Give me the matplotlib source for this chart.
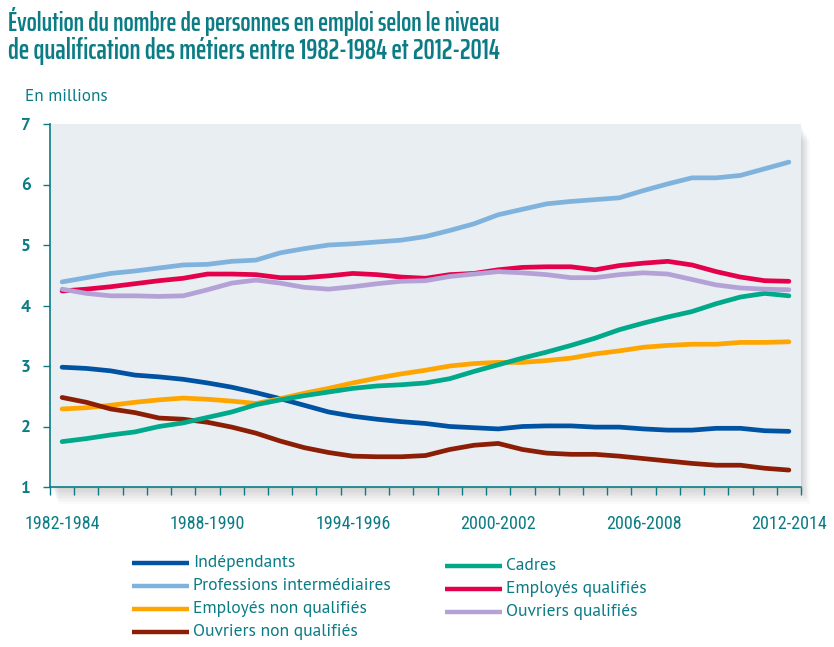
import numpy as np
import matplotlib
matplotlib.use("Agg")
from matplotlib import pyplot as plt
from matplotlib.patches import Rectangle

periods = ["%d-%d" % (y, y + 2) for y in range(1982, 2013)]
tick_labels = ["1982-1984", "1988-1990", "1994-1996", "2000-2002", "2006-2008", "2012-2014"]

independants = [2.98, 2.96, 2.92, 2.85, 2.82, 2.78, 2.72, 2.65, 2.56, 2.46, 2.35, 2.24, 2.17, 2.12, 2.08,
                2.05, 2.00, 1.98, 1.96, 2.00, 2.01, 2.01, 1.99, 1.99, 1.96, 1.94, 1.94, 1.97, 1.97, 1.93, 1.92]
prof_inter = [4.39, 4.46, 4.53, 4.57, 4.62, 4.67, 4.68, 4.73, 4.75, 4.87, 4.94, 5.00, 5.02, 5.05, 5.08,
              5.14, 5.24, 5.35, 5.50, 5.59, 5.68, 5.72, 5.75, 5.78, 5.90, 6.01, 6.11, 6.11, 6.15, 6.26, 6.37]
employes_nq = [2.29, 2.31, 2.35, 2.40, 2.44, 2.47, 2.45, 2.42, 2.38, 2.46, 2.55, 2.63, 2.72, 2.80, 2.87,
               2.93, 3.00, 3.04, 3.06, 3.06, 3.09, 3.13, 3.20, 3.25, 3.31, 3.34, 3.36, 3.36, 3.39, 3.39, 3.40]
ouvriers_nq = [2.48, 2.40, 2.29, 2.23, 2.14, 2.12, 2.07, 1.99, 1.89, 1.76, 1.65, 1.57, 1.51, 1.50, 1.50,
               1.52, 1.62, 1.69, 1.72, 1.62, 1.56, 1.54, 1.54, 1.51, 1.47, 1.43, 1.39, 1.36, 1.36, 1.31, 1.28]
cadres = [1.75, 1.80, 1.86, 1.91, 2.00, 2.06, 2.15, 2.24, 2.36, 2.44, 2.51, 2.57, 2.63, 2.67, 2.69,
          2.72, 2.79, 2.91, 3.02, 3.13, 3.23, 3.34, 3.46, 3.60, 3.71, 3.81, 3.90, 4.03, 4.14, 4.20, 4.16]
employes_q = [4.24, 4.27, 4.31, 4.36, 4.41, 4.45, 4.52, 4.52, 4.51, 4.46, 4.46, 4.49, 4.53, 4.51, 4.47,
              4.45, 4.51, 4.53, 4.59, 4.63, 4.64, 4.64, 4.59, 4.66, 4.70, 4.73, 4.67, 4.56, 4.47, 4.41, 4.40]
ouvriers_q = [4.27, 4.20, 4.16, 4.16, 4.15, 4.16, 4.26, 4.37, 4.42, 4.37, 4.30, 4.27, 4.31, 4.36, 4.40,
              4.41, 4.48, 4.52, 4.56, 4.54, 4.51, 4.46, 4.46, 4.51, 4.54, 4.52, 4.43, 4.34, 4.29, 4.27, 4.26]

left_items = [("Indépendants", independants, "#0052a2"),
              ("Professions intermédiaires", prof_inter, "#7fb3dd"),
              ("Employés non qualifiés", employes_nq, "#ffa500"),
              ("Ouvriers non qualifiés", ouvriers_nq, "#8c1e05")]
right_items = [("Cadres", cadres, "#00a98a"),
               ("Employés qualifiés", employes_q, "#e4004b"),
               ("Ouvriers qualifiés", ouvriers_q, "#b4a2d6")]

teal = "#0b7c85"
title_font = ["Saira ExtraCondensed", "Barlow Condensed", "DejaVu Sans"]
tick_font = ["Roboto Condensed", "DejaVu Sans"]
body = ["PT Sans", "DejaVu Sans"]

fig = plt.figure(figsize=(8.34, 6.47), dpi=100)
ax = fig.add_axes([50 / 834, 1 - 487 / 647, 751 / 834, 363 / 647])

# soft shadow right and bottom of the plot area
for k in range(1, 12):
    fig.patches.append(Rectangle((50 / 834 + k * 0.8 / 834, 1 - (487 + k * 1.5) / 647),
                                 751 / 834, 363 / 647, transform=fig.transFigure,
                                 facecolor="#000000", alpha=0.016, edgecolor="none", zorder=-2))
ax.set_facecolor("#e8eef1")
ax.set_zorder(1)

x = np.arange(len(periods))
for name, vals, col in left_items + right_items:
    ax.plot(x, vals, color=col, lw=3.4, solid_capstyle="round", solid_joinstyle="round")

ax.set_xlim(-0.5, len(periods) - 0.5)
ax.set_ylim(1, 7)
ax.set_yticks(range(1, 8))
ax.set_xticks([periods.index(t) for t in tick_labels])
ax.set_xticklabels(tick_labels, family=tick_font, fontsize=13, color=teal)
ax.set_xticks(np.arange(-0.5, len(periods)), minor=True)
ax.tick_params(axis="x", which="major", length=0, pad=20)
ax.tick_params(axis="x", which="minor", length=6, width=1, color=teal, direction="out")
ax.tick_params(axis="y", length=5, width=1, color=teal, labelcolor=teal, pad=9)
for lab in ax.get_yticklabels():
    lab.set_family(body)
    lab.set_fontweight("bold")
    lab.set_fontsize(12.5)

for s in ["top", "right"]:
    ax.spines[s].set_visible(False)
for s in ["left", "bottom"]:
    ax.spines[s].set_color(teal)
    ax.spines[s].set_linewidth(1.2)

t1 = fig.text(8 / 834, 1 - 21 / 647, "Évolution du nombre de personnes en emploi selon le niveau",
              family=title_font, fontweight="semibold", fontsize=18, color=teal, va="center")
t2 = fig.text(8 / 834, 1 - 51 / 647, "de qualification des métiers entre 1982-1984 et 2012-2014",
              family=title_font, fontweight="semibold", fontsize=18, color=teal, va="center")
fig.text(25 / 834, 1 - 97 / 647, "En millions", family=body, fontsize=12.3, color=teal, va="center")

# fit the title lines to the width they have in the source
fig.canvas.draw()
r = fig.canvas.get_renderer()
for t, target in [(t1, 492), (t2, 492)]:
    w = t.get_window_extent(r).width
    t.set_fontsize(t.get_fontsize() * target / w)

# legend drawn as two columns of handles and labels
def legend_column(items, x0, y0):
    for i, (name, vals, col) in enumerate(items):
        y = 1 - (y0 + i * 23) / 647
        fig.add_artist(plt.Line2D([x0 / 834, (x0 + 57) / 834], [y, y], transform=fig.transFigure,
                                  color=col, lw=3.2, solid_capstyle="butt"))
        fig.text((x0 + 61) / 834, y, name, family=body, fontsize=12.6, color=teal, va="center")

legend_column(left_items, 132, 563)
legend_column(right_items, 445, 566)

fig.savefig("out.png", dpi=100)
